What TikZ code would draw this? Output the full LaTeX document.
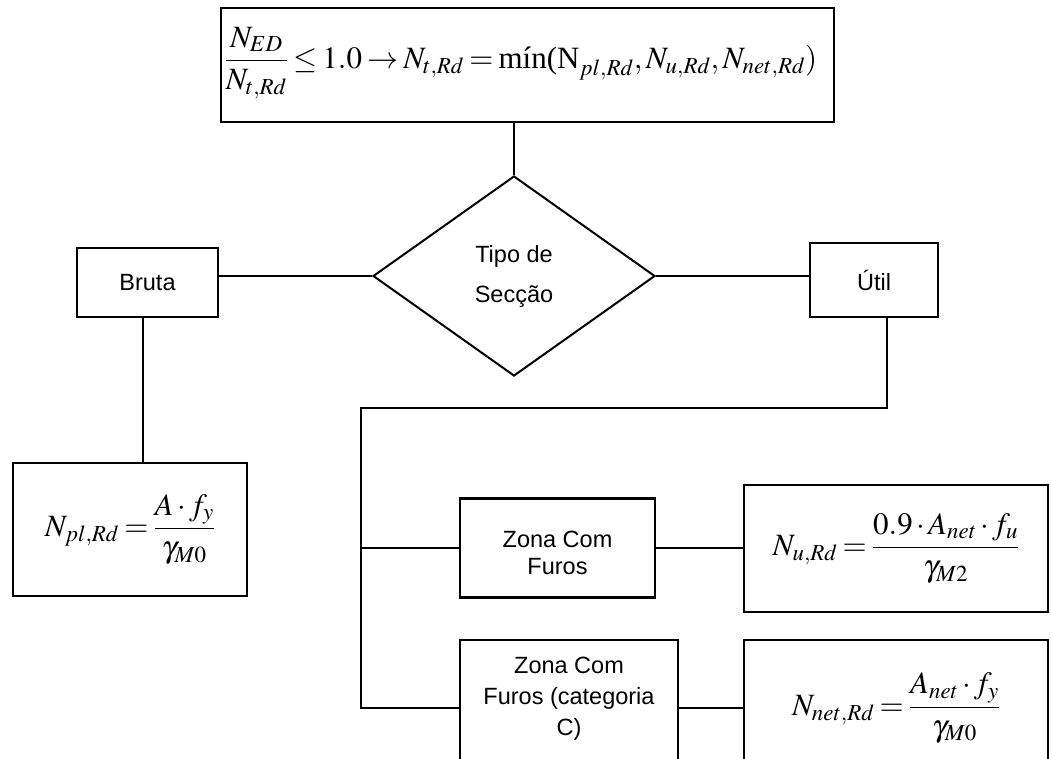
\documentclass[tikz,border=0pt]{standalone}
\usepackage{amsmath}
\usepackage{mathptmx}
\usepackage[no-math]{fontspec}
\setmainfont{Liberation Sans}
\newfontfamily\timesfont{Liberation Serif}
\usetikzlibrary{shapes.geometric,positioning}
\thickmuskip=3mu
\medmuskip=2mu

\begin{document}
\begin{tikzpicture}[x=1pt,y=-1pt,
    box/.style={draw,line width=2.6pt,inner sep=0pt,align=center},
    label/.style={font=\fontsize{23.5}{33}\selectfont,align=center},
    eq/.style={font=\fontsize{31}{40}\selectfont},
    link/.style={line width=1.1pt}]
  \clip (0,0) rectangle (1051,758);
  % formula at the top
  \node[box,minimum width=613,minimum height=114] (top) at (527.5,65) {};
  \node[eq,inner sep=0pt] (toptext) at (521,63)
    {$\dfrac{N_{ED}}{N_{t,Rd}}\le 1.0\rightarrow N_{t,Rd}=\mbox{\timesfont m\'in(N}_{pl,Rd},N_{u,Rd},N_{net,Rd})$};
  \node[draw,diamond,line width=2pt,align=center,inner sep=0pt,
    minimum width=282,minimum height=200,font=\fontsize{23.5}{40}\selectfont] (tipo) at (514,276)
    {Tipo de\\Secção};
  \node[box,label,minimum width=141,minimum height=69] (bruta) at (147.5,282.5) {Bruta};
  \node[box,label,minimum width=128,minimum height=74] (util) at (874,280) {Útil};
  \node[box,eq,minimum width=234,minimum height=133] (npl) at (130,529.5)
    {$N_{pl,Rd}=\dfrac{A\cdot f_y}{\gamma_{M0}}$};
  \node[box,minimum width=195,minimum height=99] (zona) at (557.5,548) {};
  \node[label,font=\fontsize{23.5}{27}\selectfont] (zonatext) at ([yshift=-5pt]zona.center)
    {Zona Com\\Furos};
  \node[box,eq,minimum width=304,minimum height=127] (nu) at (896,548.5)
    {$N_{u,Rd}=\dfrac{0.9\cdot A_{net}\cdot f_u}{\gamma_{M2}}$};
  \node[box,minimum width=218,minimum height=136] (cat) at (569,708) {};
  \node[label,font=\fontsize{23.5}{31}\selectfont] (cattext) at ([yshift=9pt]cat.center)
    {Zona Com\\Furos (categoria\\C)};
  \node[box,eq,minimum width=304,minimum height=136] (nnet) at (896,708)
    {$N_{net,Rd}=\dfrac{A_{net}\cdot f_y}{\gamma_{M0}}$};
  % connectors
  \coordinate (bdrop) at (143,0);
  \coordinate (udrop) at (887,0);
  \coordinate (split) at (361,408);
  \draw[link] (tipo.north |- top.south) -- (tipo.north);
  \draw[link] (tipo.west) -- (bruta.east |- tipo.west);
  \draw[link] (tipo.east) -- (util.west |- tipo.east);
  \draw[link] (bdrop |- bruta.south) -- (bdrop |- npl.north);
  \draw[link] (udrop |- util.south) |- (split) -- (split |- cat.west) -- (cat.west);
  \draw[link] (split |- zona.west) -- (zona.west);
  \draw[link] (zona.east) -- (nu.west |- zona.east);
  \draw[link] (cat.east) -- (nnet.west);
\end{tikzpicture}
\end{document}
